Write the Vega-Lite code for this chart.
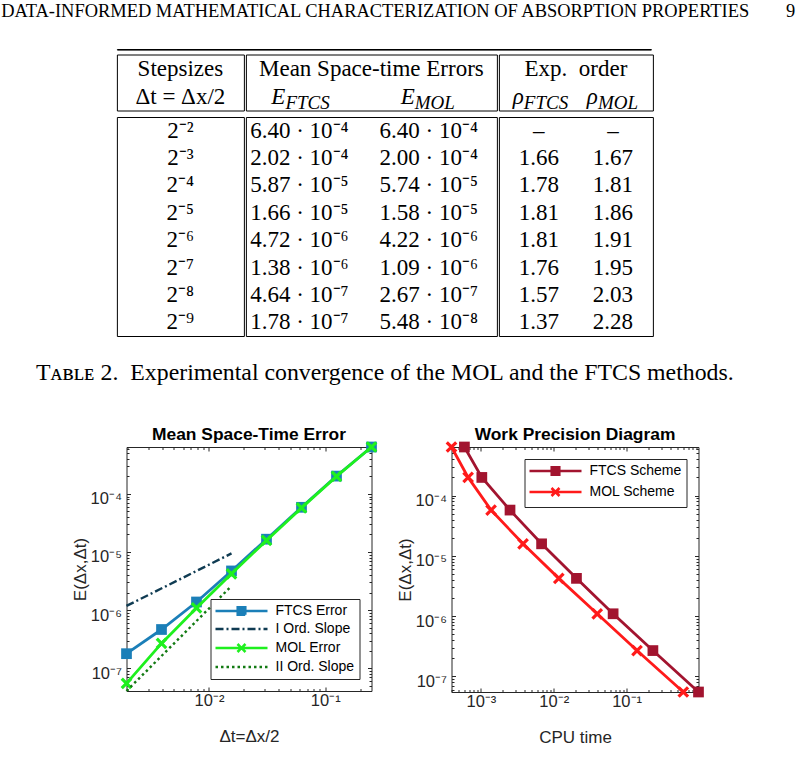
{
  "$schema": "https://vega.github.io/schema/vega-lite/v6.json",
  "background": "white",
  "padding": {"left": 0.5, "top": 2, "right": 0, "bottom": 0},
  "title": {"text": "DATA-INFORMED MATHEMATICAL CHARACTERIZATION OF ABSORPTION PROPERTIES\u2003\u20039", "anchor": "start", "dx": -34.5, "font": "Liberation Serif", "fontSize": 18.45, "fontWeight": "normal", "color": "black", "offset": 28},
  "datasets": {
    "table": [
      {"k": 2, "E_FTCS": 6.40e-4, "E_MOL": 6.40e-4, "rho_FTCS": null, "rho_MOL": null},
      {"k": 3, "E_FTCS": 2.02e-4, "E_MOL": 2.00e-4, "rho_FTCS": 1.66, "rho_MOL": 1.67},
      {"k": 4, "E_FTCS": 5.87e-5, "E_MOL": 5.74e-5, "rho_FTCS": 1.78, "rho_MOL": 1.81},
      {"k": 5, "E_FTCS": 1.66e-5, "E_MOL": 1.58e-5, "rho_FTCS": 1.81, "rho_MOL": 1.86},
      {"k": 6, "E_FTCS": 4.72e-6, "E_MOL": 4.22e-6, "rho_FTCS": 1.81, "rho_MOL": 1.91},
      {"k": 7, "E_FTCS": 1.38e-6, "E_MOL": 1.09e-6, "rho_FTCS": 1.76, "rho_MOL": 1.95},
      {"k": 8, "E_FTCS": 4.64e-7, "E_MOL": 2.67e-7, "rho_FTCS": 1.57, "rho_MOL": 2.03},
      {"k": 9, "E_FTCS": 1.78e-7, "E_MOL": 5.48e-8, "rho_FTCS": 1.37, "rho_MOL": 2.28}
    ],
    "conv": [
      {"series": "FTCS Error", "dt": 0.25, "E": 6.40e-4},
      {"series": "FTCS Error", "dt": 0.125, "E": 2.02e-4},
      {"series": "FTCS Error", "dt": 0.0625, "E": 5.87e-5},
      {"series": "FTCS Error", "dt": 0.03125, "E": 1.66e-5},
      {"series": "FTCS Error", "dt": 0.015625, "E": 4.72e-6},
      {"series": "FTCS Error", "dt": 0.0078125, "E": 1.38e-6},
      {"series": "FTCS Error", "dt": 0.00390625, "E": 4.64e-7},
      {"series": "FTCS Error", "dt": 0.001953125, "E": 1.78e-7},
      {"series": "MOL Error", "dt": 0.25, "E": 6.40e-4},
      {"series": "MOL Error", "dt": 0.125, "E": 2.00e-4},
      {"series": "MOL Error", "dt": 0.0625, "E": 5.74e-5},
      {"series": "MOL Error", "dt": 0.03125, "E": 1.58e-5},
      {"series": "MOL Error", "dt": 0.015625, "E": 4.22e-6},
      {"series": "MOL Error", "dt": 0.0078125, "E": 1.09e-6},
      {"series": "MOL Error", "dt": 0.00390625, "E": 2.67e-7},
      {"series": "MOL Error", "dt": 0.001953125, "E": 5.48e-8},
      {"series": "I Ord. Slope", "dt": 0.001953125, "E": 1.18e-6},
      {"series": "I Ord. Slope", "dt": 0.015625, "E": 9.44e-6},
      {"series": "II Ord. Slope", "dt": 0.001953125, "E": 4.06e-8},
      {"series": "II Ord. Slope", "dt": 0.015625, "E": 2.6e-6}
    ],
    "work": [
      {"series": "FTCS Scheme", "cpu": 5.94e-4, "E": 6.40e-4},
      {"series": "FTCS Scheme", "cpu": 1.03e-3, "E": 2.00e-4},
      {"series": "FTCS Scheme", "cpu": 2.51e-3, "E": 5.74e-5},
      {"series": "FTCS Scheme", "cpu": 6.81e-3, "E": 1.58e-5},
      {"series": "FTCS Scheme", "cpu": 0.0205, "E": 4.22e-6},
      {"series": "FTCS Scheme", "cpu": 0.0653, "E": 1.09e-6},
      {"series": "FTCS Scheme", "cpu": 0.2296, "E": 2.67e-7},
      {"series": "FTCS Scheme", "cpu": 0.97, "E": 5.48e-8},
      {"series": "MOL Scheme", "cpu": 3.95e-4, "E": 6.40e-4},
      {"series": "MOL Scheme", "cpu": 6.68e-4, "E": 2.00e-4},
      {"series": "MOL Scheme", "cpu": 1.38e-3, "E": 5.74e-5},
      {"series": "MOL Scheme", "cpu": 3.79e-3, "E": 1.58e-5},
      {"series": "MOL Scheme", "cpu": 0.01173, "E": 4.22e-6},
      {"series": "MOL Scheme", "cpu": 0.0395, "E": 1.09e-6},
      {"series": "MOL Scheme", "cpu": 0.139, "E": 2.67e-7},
      {"series": "MOL Scheme", "cpu": 0.60, "E": 5.48e-8}
    ]
  },
  "vconcat": [
    {
      "spacing": 40,
      "center": true,
      "vconcat": [
        {
          "title": {"text": "T\u1d00\u0299\u029f\u1d07 2.\u2002Experimental convergence of the MOL and the FTCS methods.", "orient": "bottom", "anchor": "middle", "font": "Liberation Serif", "fontSize": 23.8, "fontWeight": "normal", "color": "black", "offset": 24},
          "spacing": 2.5,
          "vconcat": [
            {"width": 534, "height": 0.6, "view": {"stroke": "black", "strokeWidth": 1}, "data": {"values": []}, "mark": "rule", "encoding": {}},
            {
              "spacing": 0,
              "hconcat": [
                {
                  "width": 127, "height": 56, "view": {"stroke": "black", "strokeWidth": 1},
                  "data": {"values": [{"row": 1, "label": "Stepsizes"}, {"row": 2, "label": "\u0394t = \u0394x/2"}]},
                  "mark": {"type": "text"},
                  "encoding": {"y": {"field": "row", "type": "ordinal", "axis": null}, "text": {"field": "label"}}
                },
                {
                  "width": 251, "height": 56, "view": {"stroke": "black", "strokeWidth": 1},
                  "layer": [
                    {
                      "data": {"values": [{"row": 1, "label": "Mean Space-time Errors"}]},
                      "mark": {"type": "text"},
                      "encoding": {"y": {"field": "row", "type": "ordinal", "axis": null, "scale": {"domain": [1, 2]}}, "text": {"field": "label"}}
                    },
                    {
                      "data": {"values": [{"row": 2, "col": "E_FTCS", "sym": "E", "sub": "FTCS"}, {"row": 2, "col": "E_MOL", "sym": "E", "sub": "MOL"}]},
                      "layer": [
                        {
                          "mark": {"type": "text", "fontStyle": "italic", "align": "right", "dx": -14},
                          "encoding": {
                            "x": {"field": "col", "type": "nominal", "axis": null, "scale": {"domain": ["E_FTCS", "E_MOL"], "padding": 0.47, "align": 0.44}},
                            "y": {"field": "row", "type": "ordinal", "axis": null, "scale": {"domain": [1, 2]}},
                            "text": {"field": "sym"}
                          }
                        },
                        {
                          "mark": {"type": "text", "fontStyle": "italic", "fontSize": 19, "align": "left", "dx": -14, "dy": 6},
                          "encoding": {
                            "x": {"field": "col", "type": "nominal", "axis": null, "scale": {"domain": ["E_FTCS", "E_MOL"], "padding": 0.47, "align": 0.44}},
                            "y": {"field": "row", "type": "ordinal", "axis": null, "scale": {"domain": [1, 2]}},
                            "text": {"field": "sub"}
                          }
                        }
                      ]
                    }
                  ]
                },
                {
                  "width": 154, "height": 56, "view": {"stroke": "black", "strokeWidth": 1},
                  "layer": [
                    {
                      "data": {"values": [{"row": 1, "label": "Exp.\u2002order"}]},
                      "mark": {"type": "text"},
                      "encoding": {"y": {"field": "row", "type": "ordinal", "axis": null, "scale": {"domain": [1, 2]}}, "text": {"field": "label"}}
                    },
                    {
                      "data": {"values": [{"row": 2, "col": "rho_FTCS", "sym": "\u03c1", "sub": "FTCS"}, {"row": 2, "col": "rho_MOL", "sym": "\u03c1", "sub": "MOL"}]},
                      "layer": [
                        {
                          "mark": {"type": "text", "fontStyle": "italic", "align": "right", "dx": -15},
                          "encoding": {
                            "x": {"field": "col", "type": "nominal", "axis": null, "scale": {"domain": ["rho_FTCS", "rho_MOL"], "padding": 0.54, "align": 0.5}},
                            "y": {"field": "row", "type": "ordinal", "axis": null, "scale": {"domain": [1, 2]}},
                            "text": {"field": "sym"}
                          }
                        },
                        {
                          "mark": {"type": "text", "fontStyle": "italic", "fontSize": 19, "align": "left", "dx": -15, "dy": 6},
                          "encoding": {
                            "x": {"field": "col", "type": "nominal", "axis": null, "scale": {"domain": ["rho_FTCS", "rho_MOL"], "padding": 0.54, "align": 0.5}},
                            "y": {"field": "row", "type": "ordinal", "axis": null, "scale": {"domain": [1, 2]}},
                            "text": {"field": "sub"}
                          }
                        }
                      ]
                    }
                  ]
                }
              ]
            },
            {
              "spacing": 0,
              "hconcat": [
                {
                  "width": 127, "height": 219, "view": {"stroke": "black", "strokeWidth": 1},
                  "data": {"name": "table"},
                  "mark": {"type": "text", "text": {"expr": "'2\u207b' + ['\u2070','\u00b9','\u00b2','\u00b3','\u2074','\u2075','\u2076','\u2077','\u2078','\u2079'][datum.k]"}},
                  "encoding": {"y": {"field": "k", "type": "ordinal", "axis": null}}
                },
                {
                  "width": 251, "height": 219, "view": {"stroke": "black", "strokeWidth": 1},
                  "data": {"name": "table"},
                  "transform": [{"fold": ["E_FTCS", "E_MOL"], "as": ["col", "val"]}],
                  "mark": {"type": "text", "text": {"expr": "format(datum.val / pow(10, floor(log(datum.val) / LN10)), '.2f') + ' \u00b7 10\u207b' + ['\u2070','\u00b9','\u00b2','\u00b3','\u2074','\u2075','\u2076','\u2077','\u2078','\u2079'][-floor(log(datum.val) / LN10)]"}},
                  "encoding": {
                    "x": {"field": "col", "type": "nominal", "axis": null, "scale": {"domain": ["E_FTCS", "E_MOL"], "padding": 0.47, "align": 0.44}},
                    "y": {"field": "k", "type": "ordinal", "axis": null}
                  }
                },
                {
                  "width": 154, "height": 219, "view": {"stroke": "black", "strokeWidth": 1},
                  "data": {"name": "table"},
                  "transform": [{"fold": ["rho_FTCS", "rho_MOL"], "as": ["col", "val"]}],
                  "mark": {"type": "text", "text": {"expr": "datum.val == null ? '\u2013' : format(datum.val, '.2f')"}},
                  "encoding": {
                    "x": {"field": "col", "type": "nominal", "axis": null, "scale": {"domain": ["rho_FTCS", "rho_MOL"], "padding": 0.54, "align": 0.5}},
                    "y": {"field": "k", "type": "ordinal", "axis": null}
                  }
                }
              ]
            }
          ]
        },
        {
          "spacing": 12,
          "resolve": {
            "scale": {"fill": "independent", "stroke": "independent", "shape": "independent", "strokeDash": "independent"},
            "legend": {"fill": "independent", "stroke": "independent", "shape": "independent", "strokeDash": "independent"}
          },
          "hconcat": [
            {
              "width": 245, "height": 244,
              "view": {"stroke": "#262626", "strokeWidth": 1},
              "title": {"text": "Mean Space-Time Error", "font": "Liberation Sans", "fontSize": 17.4, "fontWeight": "bold", "color": "black", "anchor": "middle", "frame": "group", "offset": -8},
              "data": {"name": "conv"},
              "resolve": {"axis": {"x": "independent", "y": "independent"}},
              "layer": [
                {
                  "transform": [{"filter": {"field": "series", "equal": "FTCS Error"}}],
                  "mark": {"type": "line", "color": "#1b7fb8", "strokeWidth": 2.8},
                  "encoding": {
                    "x": {"field": "dt", "type": "quantitative", "scale": {"type": "log", "domain": [0.001953125, 0.25], "nice": false},
                      "axis": {"orient": "bottom", "values": [0.002,0.003,0.004,0.005,0.006,0.007,0.008,0.009,0.01,0.02,0.03,0.04,0.05,0.06,0.07,0.08,0.09,0.1,0.2],
                        "labelExpr": "abs(log(datum.value)/LN10 - round(log(datum.value)/LN10)) < 0.01 ? '10\u207b' + ['\u2070','\u00b9','\u00b2','\u00b3','\u2074','\u2075','\u2076','\u2077','\u2078','\u2079'][-round(log(datum.value)/LN10)] : ''",
                        "tickSize": {"condition": {"test": "abs(log(datum.value)/LN10 - round(log(datum.value)/LN10)) < 0.01", "value": -4}, "value": -2.5},
                        "labelPadding": 5, "labelBaseline": "top", "title": "\u0394t=\u0394x/2", "titlePadding": 18}},
                    "y": {"field": "E", "type": "quantitative", "scale": {"type": "log", "domain": [4.06e-8, 6.4e-4], "nice": false},
                      "axis": {"orient": "left", "values": [5e-8,6e-8,7e-8,8e-8,9e-8,1e-7,2e-7,3e-7,4e-7,5e-7,6e-7,7e-7,8e-7,9e-7,1e-6,2e-6,3e-6,4e-6,5e-6,6e-6,7e-6,8e-6,9e-6,1e-5,2e-5,3e-5,4e-5,5e-5,6e-5,7e-5,8e-5,9e-5,1e-4,2e-4,3e-4,4e-4,5e-4,6e-4],
                        "labelExpr": "abs(log(datum.value)/LN10 - round(log(datum.value)/LN10)) < 0.01 ? '10\u207b' + ['\u2070','\u00b9','\u00b2','\u00b3','\u2074','\u2075','\u2076','\u2077','\u2078','\u2079'][-round(log(datum.value)/LN10)] : ''",
                        "tickSize": {"condition": {"test": "abs(log(datum.value)/LN10 - round(log(datum.value)/LN10)) < 0.01", "value": -4}, "value": -2.5},
                        "labelPadding": 9, "labelOffset": 5, "title": "E(\u0394x,\u0394t)", "titlePadding": 0.5}}
                  }
                },
                {
                  "transform": [{"filter": {"field": "series", "equal": "FTCS Error"}}],
                  "mark": {"type": "point", "shape": "square", "filled": true, "color": "#1b7fb8", "size": 115, "opacity": 1},
                  "encoding": {
                    "x": {"field": "dt", "type": "quantitative", "scale": {"type": "log", "domain": [0.001953125, 0.25], "nice": false}, "axis": null},
                    "y": {"field": "E", "type": "quantitative", "scale": {"type": "log", "domain": [4.06e-8, 6.4e-4], "nice": false}, "axis": null}
                  }
                },
                {
                  "transform": [{"filter": {"field": "series", "equal": "I Ord. Slope"}}],
                  "mark": {"type": "line", "color": "#0f3b52", "strokeWidth": 2.4, "strokeDash": [8, 3, 2, 3]},
                  "encoding": {
                    "x": {"field": "dt", "type": "quantitative", "scale": {"type": "log", "domain": [0.001953125, 0.25], "nice": false}, "axis": null},
                    "y": {"field": "E", "type": "quantitative", "scale": {"type": "log", "domain": [4.06e-8, 6.4e-4], "nice": false}, "axis": null}
                  }
                },
                {
                  "transform": [{"filter": {"field": "series", "equal": "MOL Error"}}],
                  "mark": {"type": "line", "color": "#1ef01e", "strokeWidth": 2.8},
                  "encoding": {
                    "x": {"field": "dt", "type": "quantitative", "scale": {"type": "log", "domain": [0.001953125, 0.25], "nice": false}, "axis": null},
                    "y": {"field": "E", "type": "quantitative", "scale": {"type": "log", "domain": [4.06e-8, 6.4e-4], "nice": false}, "axis": null}
                  }
                },
                {
                  "transform": [{"filter": {"field": "series", "equal": "MOL Error"}}],
                  "mark": {"type": "point", "shape": "M-1,-1L1,1M-1,1L1,-1", "filled": false, "color": "#1ef01e", "size": 90, "strokeWidth": 3.2, "opacity": 1},
                  "encoding": {
                    "x": {"field": "dt", "type": "quantitative", "scale": {"type": "log", "domain": [0.001953125, 0.25], "nice": false}, "axis": null},
                    "y": {"field": "E", "type": "quantitative", "scale": {"type": "log", "domain": [4.06e-8, 6.4e-4], "nice": false}, "axis": null}
                  }
                },
                {
                  "transform": [{"filter": {"field": "series", "equal": "II Ord. Slope"}}],
                  "mark": {"type": "line", "color": "#127a12", "strokeWidth": 2.4, "strokeDash": [2.5, 3]},
                  "encoding": {
                    "x": {"field": "dt", "type": "quantitative", "scale": {"type": "log", "domain": [0.001953125, 0.25], "nice": false}, "axis": null},
                    "y": {"field": "E", "type": "quantitative", "scale": {"type": "log", "domain": [4.06e-8, 6.4e-4], "nice": false}, "axis": null}
                  }
                },
                {
                  "transform": [{"filter": "false"}],
                  "mark": {"type": "point", "filled": true, "strokeWidth": 2.6, "opacity": 1},
                  "encoding": {
                    "x": {"field": "dt", "type": "quantitative", "scale": {"type": "log", "domain": [0.001953125, 0.25], "nice": false},
                      "axis": {"orient": "top", "labels": false, "title": null, "minExtent": 0, "maxExtent": 0, "values": [0.002,0.003,0.004,0.005,0.006,0.007,0.008,0.009,0.01,0.02,0.03,0.04,0.05,0.06,0.07,0.08,0.09,0.1,0.2],
                        "tickSize": {"condition": {"test": "abs(log(datum.value)/LN10 - round(log(datum.value)/LN10)) < 0.01", "value": -4}, "value": -2.5}}},
                    "y": {"field": "E", "type": "quantitative", "scale": {"type": "log", "domain": [4.06e-8, 6.4e-4], "nice": false},
                      "axis": {"orient": "right", "labels": false, "title": null, "minExtent": 0, "maxExtent": 0, "values": [5e-8,6e-8,7e-8,8e-8,9e-8,1e-7,2e-7,3e-7,4e-7,5e-7,6e-7,7e-7,8e-7,9e-7,1e-6,2e-6,3e-6,4e-6,5e-6,6e-6,7e-6,8e-6,9e-6,1e-5,2e-5,3e-5,4e-5,5e-5,6e-5,7e-5,8e-5,9e-5,1e-4,2e-4,3e-4,4e-4,5e-4,6e-4],
                        "tickSize": {"condition": {"test": "abs(log(datum.value)/LN10 - round(log(datum.value)/LN10)) < 0.01", "value": -4}, "value": -2.5}}},
                    "fill": {"field": "series", "type": "nominal", "scale": {"domain": ["FTCS Error", "I Ord. Slope", "MOL Error", "II Ord. Slope"], "range": ["#1b7fb8", "#0f3b52", "#1ef01e", "#127a12"]},
                      "legend": {"title": null, "orient": "bottom-right", "offset": 12}},
                    "stroke": {"field": "series", "type": "nominal", "scale": {"domain": ["FTCS Error", "I Ord. Slope", "MOL Error", "II Ord. Slope"], "range": ["#1b7fb8", "#0f3b52", "#1ef01e", "#127a12"]},
                      "legend": {"title": null, "orient": "bottom-right", "offset": 12}},
                    "shape": {"field": "series", "type": "nominal", "scale": {"domain": ["FTCS Error", "I Ord. Slope", "MOL Error", "II Ord. Slope"], "range": ["M-1.4,0H9M3.05,-0.75H4.55V0.75H3.05Z", "M-1.4,0H9", "M-1.4,0H9M3,-0.8L4.6,0.8M3,0.8L4.6,-0.8", "M-1.4,0H9"]},
                      "legend": {"title": null, "orient": "bottom-right", "offset": 12}},
                    "strokeDash": {"field": "series", "type": "nominal", "scale": {"domain": ["FTCS Error", "I Ord. Slope", "MOL Error", "II Ord. Slope"], "range": [[1, 0], [8, 3, 2, 3], [1, 0], [2.5, 3]]},
                      "legend": {"title": null, "orient": "bottom-right", "offset": 12}}
                  }
                }
              ]
            },
            {
              "width": 247, "height": 245,
              "view": {"stroke": "#262626", "strokeWidth": 1},
              "title": {"text": "Work Precision Diagram", "font": "Liberation Sans", "fontSize": 17.4, "fontWeight": "bold", "color": "black", "anchor": "middle", "frame": "group", "offset": -8},
              "data": {"name": "work"},
              "resolve": {"axis": {"x": "independent", "y": "independent"}},
              "layer": [
                {
                  "transform": [{"filter": {"field": "series", "equal": "FTCS Scheme"}}],
                  "mark": {"type": "line", "color": "#a2142f", "strokeWidth": 2.8},
                  "encoding": {
                    "x": {"field": "cpu", "type": "quantitative", "scale": {"type": "log", "domain": [3.95e-4, 0.97], "nice": false},
                      "axis": {"orient": "bottom", "values": [4e-4,5e-4,6e-4,7e-4,8e-4,9e-4,1e-3,2e-3,3e-3,4e-3,5e-3,6e-3,7e-3,8e-3,9e-3,0.01,0.02,0.03,0.04,0.05,0.06,0.07,0.08,0.09,0.1,0.2,0.3,0.4,0.5,0.6,0.7,0.8,0.9],
                        "labelExpr": "abs(log(datum.value)/LN10 - round(log(datum.value)/LN10)) < 0.01 ? '10\u207b' + ['\u2070','\u00b9','\u00b2','\u00b3','\u2074','\u2075','\u2076','\u2077','\u2078','\u2079'][-round(log(datum.value)/LN10)] : ''",
                        "tickSize": {"condition": {"test": "abs(log(datum.value)/LN10 - round(log(datum.value)/LN10)) < 0.01", "value": -4}, "value": -2.5},
                        "labelPadding": 5, "labelBaseline": "top", "title": "CPU time", "titlePadding": 18}},
                    "y": {"field": "E", "type": "quantitative", "scale": {"type": "log", "domain": [5.48e-8, 6.4e-4], "nice": false},
                      "axis": {"orient": "left", "values": [6e-8,7e-8,8e-8,9e-8,1e-7,2e-7,3e-7,4e-7,5e-7,6e-7,7e-7,8e-7,9e-7,1e-6,2e-6,3e-6,4e-6,5e-6,6e-6,7e-6,8e-6,9e-6,1e-5,2e-5,3e-5,4e-5,5e-5,6e-5,7e-5,8e-5,9e-5,1e-4,2e-4,3e-4,4e-4,5e-4,6e-4],
                        "labelExpr": "abs(log(datum.value)/LN10 - round(log(datum.value)/LN10)) < 0.01 ? '10\u207b' + ['\u2070','\u00b9','\u00b2','\u00b3','\u2074','\u2075','\u2076','\u2077','\u2078','\u2079'][-round(log(datum.value)/LN10)] : ''",
                        "tickSize": {"condition": {"test": "abs(log(datum.value)/LN10 - round(log(datum.value)/LN10)) < 0.01", "value": -4}, "value": -2.5},
                        "labelPadding": 9, "labelOffset": 5, "title": "E(\u0394x,\u0394t)", "titlePadding": 0.5}}
                  }
                },
                {
                  "transform": [{"filter": {"field": "series", "equal": "FTCS Scheme"}}],
                  "mark": {"type": "point", "shape": "square", "filled": true, "color": "#a2142f", "size": 115, "opacity": 1},
                  "encoding": {
                    "x": {"field": "cpu", "type": "quantitative", "scale": {"type": "log", "domain": [3.95e-4, 0.97], "nice": false}, "axis": null},
                    "y": {"field": "E", "type": "quantitative", "scale": {"type": "log", "domain": [5.48e-8, 6.4e-4], "nice": false}, "axis": null}
                  }
                },
                {
                  "transform": [{"filter": {"field": "series", "equal": "MOL Scheme"}}],
                  "mark": {"type": "line", "color": "#ff1a1a", "strokeWidth": 2.8},
                  "encoding": {
                    "x": {"field": "cpu", "type": "quantitative", "scale": {"type": "log", "domain": [3.95e-4, 0.97], "nice": false}, "axis": null},
                    "y": {"field": "E", "type": "quantitative", "scale": {"type": "log", "domain": [5.48e-8, 6.4e-4], "nice": false}, "axis": null}
                  }
                },
                {
                  "transform": [{"filter": {"field": "series", "equal": "MOL Scheme"}}],
                  "mark": {"type": "point", "shape": "M-1,-1L1,1M-1,1L1,-1", "filled": false, "color": "#ff1a1a", "size": 90, "strokeWidth": 3.2, "opacity": 1},
                  "encoding": {
                    "x": {"field": "cpu", "type": "quantitative", "scale": {"type": "log", "domain": [3.95e-4, 0.97], "nice": false}, "axis": null},
                    "y": {"field": "E", "type": "quantitative", "scale": {"type": "log", "domain": [5.48e-8, 6.4e-4], "nice": false}, "axis": null}
                  }
                },
                {
                  "transform": [{"filter": "false"}],
                  "mark": {"type": "point", "filled": true, "strokeWidth": 2.6, "opacity": 1},
                  "encoding": {
                    "x": {"field": "cpu", "type": "quantitative", "scale": {"type": "log", "domain": [3.95e-4, 0.97], "nice": false},
                      "axis": {"orient": "top", "labels": false, "title": null, "minExtent": 0, "maxExtent": 0, "values": [4e-4,5e-4,6e-4,7e-4,8e-4,9e-4,1e-3,2e-3,3e-3,4e-3,5e-3,6e-3,7e-3,8e-3,9e-3,0.01,0.02,0.03,0.04,0.05,0.06,0.07,0.08,0.09,0.1,0.2,0.3,0.4,0.5,0.6,0.7,0.8,0.9],
                        "tickSize": {"condition": {"test": "abs(log(datum.value)/LN10 - round(log(datum.value)/LN10)) < 0.01", "value": -4}, "value": -2.5}}},
                    "y": {"field": "E", "type": "quantitative", "scale": {"type": "log", "domain": [5.48e-8, 6.4e-4], "nice": false},
                      "axis": {"orient": "right", "labels": false, "title": null, "minExtent": 0, "maxExtent": 0, "values": [6e-8,7e-8,8e-8,9e-8,1e-7,2e-7,3e-7,4e-7,5e-7,6e-7,7e-7,8e-7,9e-7,1e-6,2e-6,3e-6,4e-6,5e-6,6e-6,7e-6,8e-6,9e-6,1e-5,2e-5,3e-5,4e-5,5e-5,6e-5,7e-5,8e-5,9e-5,1e-4,2e-4,3e-4,4e-4,5e-4,6e-4],
                        "tickSize": {"condition": {"test": "abs(log(datum.value)/LN10 - round(log(datum.value)/LN10)) < 0.01", "value": -4}, "value": -2.5}}},
                    "fill": {"field": "series", "type": "nominal", "scale": {"domain": ["FTCS Scheme", "MOL Scheme"], "range": ["#a2142f", "#ff1a1a"]},
                      "legend": {"title": null, "orient": "top-right", "offset": 12}},
                    "stroke": {"field": "series", "type": "nominal", "scale": {"domain": ["FTCS Scheme", "MOL Scheme"], "range": ["#a2142f", "#ff1a1a"]},
                      "legend": {"title": null, "orient": "top-right", "offset": 12}},
                    "shape": {"field": "series", "type": "nominal", "scale": {"domain": ["FTCS Scheme", "MOL Scheme"], "range": ["M-1.4,0H9M3.05,-0.75H4.55V0.75H3.05Z", "M-1.4,0H9M3,-0.8L4.6,0.8M3,0.8L4.6,-0.8"]},
                      "legend": {"title": null, "orient": "top-right", "offset": 12}}
                  }
                }
              ]
            },
            {"width": 7, "height": 10, "data": {"values": []}, "mark": "rule", "encoding": {}}
          ]
        }
      ]
    }
  ],
  "config": {
    "view": {"stroke": null},
    "text": {"font": "Liberation Serif", "fontSize": 23, "color": "black", "baseline": "middle"},
    "axis": {"labelFont": "Liberation Sans", "labelFontSize": 16.5, "labelColor": "#262626", "titleFont": "Liberation Sans", "titleFontSize": 17, "titleFontWeight": "normal", "titleColor": "#262626", "tickColor": "#262626", "tickWidth": 1, "domain": false, "grid": false, "labelOverlap": false, "labelFlush": false},
    "legend": {"padding": 5, "strokeColor": "#262626", "fillColor": "white", "labelFont": "Liberation Sans", "labelFontSize": 14, "labelColor": "black", "symbolSize": 100, "symbolStrokeWidth": 2.6, "symbolOffset": 0, "labelOffset": 46, "rowPadding": 2, "labelLimit": 300, "cornerRadius": 0, "symbolOpacity": 1}
  }
}
